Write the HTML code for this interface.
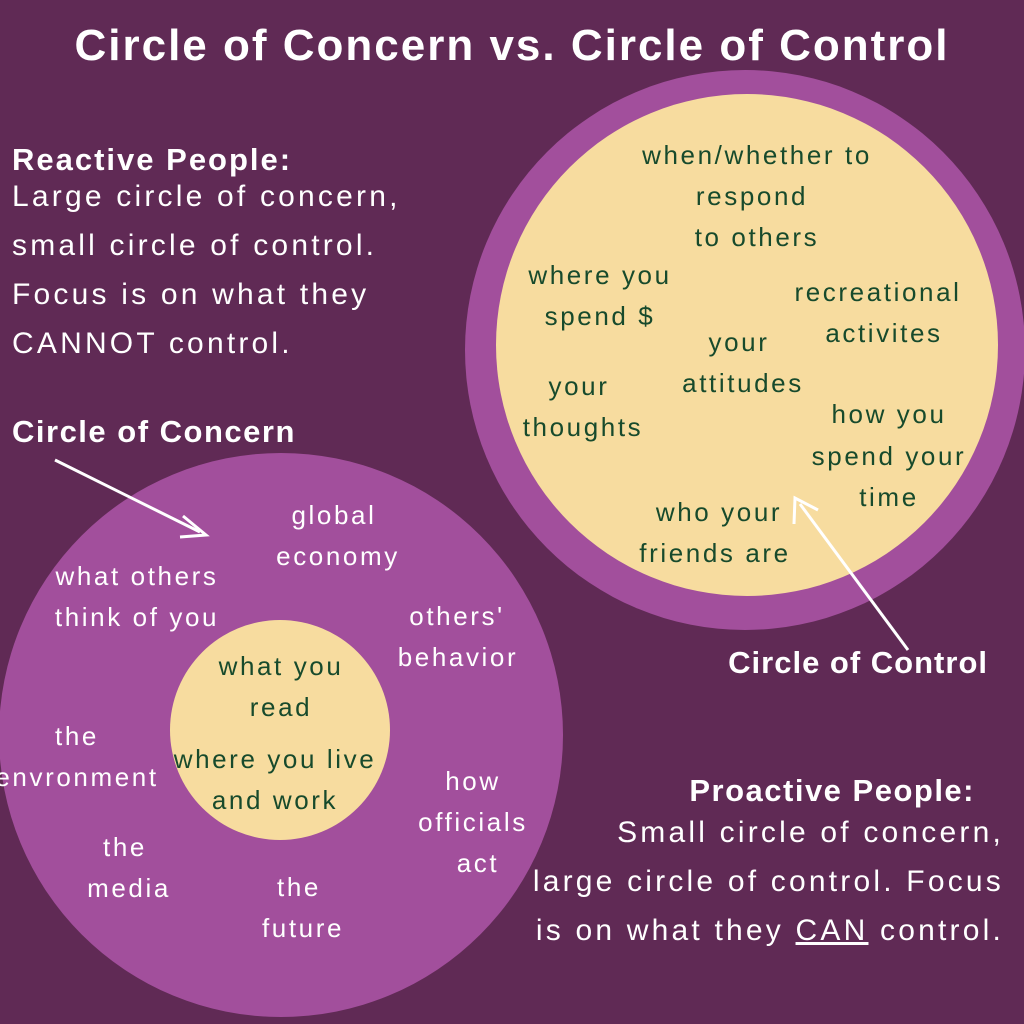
<!DOCTYPE html>
<html><head><meta charset="utf-8"><style>
html,body{margin:0;padding:0;background:#602a55;}
svg{display:block;font-family:"Liberation Sans",sans-serif;}
.g{fill:#174a2c;font-size:26px;letter-spacing:2.6px;text-anchor:middle;}
.w{fill:#fff;font-size:26px;letter-spacing:2.6px;text-anchor:middle;}
.b{fill:#fff;font-weight:bold;}
.p{fill:#fff;font-size:30px;letter-spacing:3.2px;}
</style></head><body>
<svg width="1024" height="1024" viewBox="0 0 1024 1024">
<rect width="1024" height="1024" fill="#602a55"/>
<text x="512" y="60" class="b" font-size="44" letter-spacing="2" text-anchor="middle">Circle of Concern  vs. Circle of Control</text>
<circle cx="745" cy="350" r="280" fill="#a24f9c"/>
<circle cx="747" cy="345" r="251" fill="#f7dc9f"/>
<circle cx="281" cy="735" r="282" fill="#a24f9c"/>
<circle cx="280" cy="730" r="110" fill="#f7dc9f"/>
<text x="12" y="170" class="b" font-size="31" letter-spacing="2">Reactive People:</text>
<text x="12" y="206" class="p">Large circle of concern,</text>
<text x="12" y="255" class="p">small circle of control.</text>
<text x="12" y="304" class="p">Focus is on what they</text>
<text x="12" y="353" class="p">CANNOT control.</text>
<text x="12" y="442" class="b" font-size="31" letter-spacing="1.5">Circle of Concern</text>
<line x1="55" y1="460" x2="200" y2="532" stroke="#fff" stroke-width="3"/>
<polyline points="183,516 206,535 180,537" fill="none" stroke="#fff" stroke-width="3"/>
<g class="g">
<text x="757" y="164">when/whether to</text>
<text x="752" y="205">respond</text>
<text x="757" y="246">to others</text>
<text x="600" y="284">where you</text>
<text x="600" y="325">spend $</text>
<text x="878" y="301">recreational</text>
<text x="884" y="342">activites</text>
<text x="739" y="351">your</text>
<text x="743" y="392">attitudes</text>
<text x="579" y="395">your</text>
<text x="583" y="436">thoughts</text>
<text x="889" y="423">how you</text>
<text x="889" y="465">spend your</text>
<text x="889" y="506">time</text>
<text x="719" y="521">who your</text>
<text x="715" y="562">friends are</text>
<text x="281" y="675">what you</text>
<text x="281" y="716">read</text>
<text x="275" y="768">where you live</text>
<text x="275" y="809">and work</text>
</g>
<line x1="908" y1="650" x2="800" y2="504" stroke="#fff" stroke-width="3"/>
<polyline points="794,524 795,498 818,510" fill="none" stroke="#fff" stroke-width="3"/>
<text x="988" y="673" class="b" font-size="31" letter-spacing="1" text-anchor="end">Circle of Control</text>
<g class="w">
<text x="334" y="524">global</text>
<text x="338" y="565">economy</text>
<text x="137" y="585">what others</text>
<text x="137" y="626">think of you</text>
<text x="457" y="625">others'</text>
<text x="458" y="666">behavior</text>
<text x="77" y="745">the</text>
<text x="77" y="786">envronment</text>
<text x="473" y="790">how</text>
<text x="473" y="831">officials</text>
<text x="478" y="872">act</text>
<text x="125" y="856">the</text>
<text x="129" y="897">media</text>
<text x="299" y="896">the</text>
<text x="303" y="937">future</text>
</g>
<text x="975" y="801" class="b" font-size="31" letter-spacing="1.5" text-anchor="end">Proactive People:</text>
<text x="1004" y="842" class="p" text-anchor="end">Small circle of concern,</text>
<text x="1004" y="891" class="p" text-anchor="end">large circle of control. Focus</text>
<text x="1004" y="940" class="p" text-anchor="end">is on what they <tspan text-decoration="underline">CAN</tspan> control.</text>
</svg>
</body></html>
